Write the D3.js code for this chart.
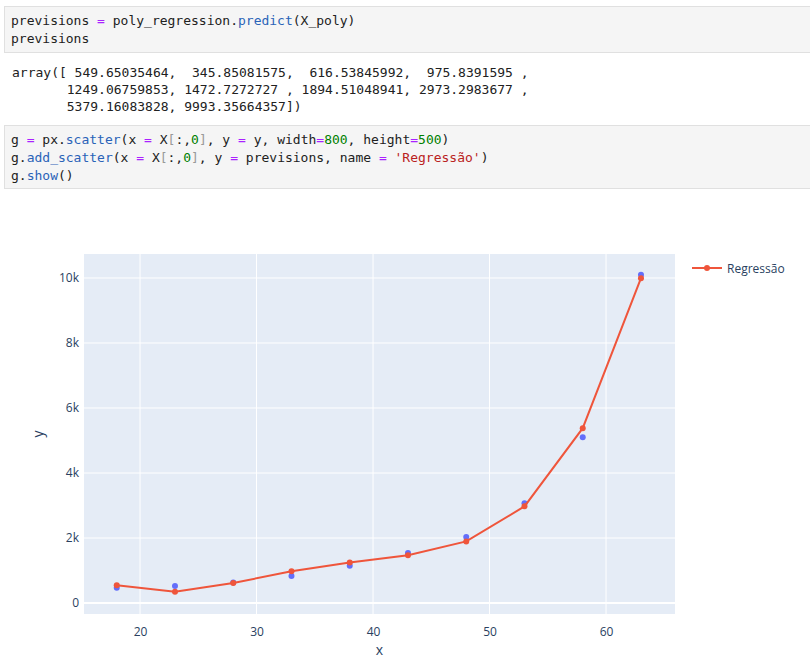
<!DOCTYPE html>
<html><head><meta charset="utf-8">
<script src="https://cdn.jsdelivr.net/npm/d3@7"></script>
<style>body{margin:0;background:#fff}</style>
</head><body><div id="page"></div>
<script>
const xVals = [18, 23, 28, 33, 38, 43, 48, 53, 58, 63];
const yActual = [470, 520, 630, 830, 1150, 1540, 2030, 3070, 5100, 10100];
const previsions = [549.65035464, 345.85081575, 616.53845992, 975.8391595, 1249.06759853,
  1472.7272727, 1894.51048941, 2973.2983677, 5379.16083828, 9993.35664357];
const xTicks = [20, 30, 40, 50, 60];
const yTicks = [0, 2000, 4000, 6000, 8000, 10000];

const svg = d3.select("#page").append("svg").attr("width", 810).attr("height", 659);
const mono = "'DejaVu Sans Mono', monospace";
const C = {kw: "#aa22ff", fn: "#2a63b8", num: "#008000", str: "#ba2121", txt: "#212121", br: "#999"};

// code cells: each line is a list of [text, colour]
function cell(y0, h, lines) {
  svg.append("rect").attr("x", 4.5).attr("y", y0 + 0.5).attr("width", 810).attr("height", h)
    .attr("fill", "#f5f5f5").attr("stroke", "#e0e0e0");
  lines.forEach((ln, i) => {
    const t = svg.append("text").attr("x", 11).attr("y", y0 + 19 + i * 18)
      .attr("font-family", mono).attr("font-size", 13).attr("xml:space", "preserve");
    ln.forEach(([s, c]) => t.append("tspan").attr("fill", c).text(s));
  });
}
cell(6, 46, [
  [["previsions ", C.txt], ["=", C.kw], [" poly_regression.", C.txt], ["predict", C.fn], ["(X_poly)", C.txt]],
  [["previsions", C.txt]]
]);
["array([ 549.65035464,  345.85081575,  616.53845992,  975.8391595 ,",
 "       1249.06759853, 1472.7272727 , 1894.51048941, 2973.2983677 ,",
 "       5379.16083828, 9993.35664357])"].forEach((s, i) =>
  svg.append("text").attr("x", 12).attr("y", 77 + i * 17).attr("font-family", mono)
    .attr("font-size", 13).attr("fill", C.txt).attr("xml:space", "preserve").text(s));
cell(125, 63, [
  [["g ", C.txt], ["=", C.kw], [" px.", C.txt], ["scatter", C.fn], ["(x ", C.txt], ["=", C.kw], [" X", C.txt],
   ["[", C.br], [":,", C.txt], ["0", C.num], ["]", C.br], [", y ", C.txt], ["=", C.kw], [" y, width", C.txt],
   ["=", C.kw], ["800", C.num], [", height", C.txt], ["=", C.kw], ["500", C.num], [")", C.txt]],
  [["g.", C.txt], ["add_scatter", C.fn], ["(x ", C.txt], ["=", C.kw], [" X", C.txt], ["[", C.br], [":,", C.txt],
   ["0", C.num], ["]", C.br], [", y ", C.txt], ["=", C.kw], [" previsions, name ", C.txt], ["=", C.kw],
   [" ", C.txt], ["'Regressão'", C.str], [")", C.txt]],
  [["g.", C.txt], ["show", C.fn], ["()", C.txt]]
]);

// plot
const L = 84, R = 675, T = 254, B = 614;
const x = d3.scaleLinear().domain([15.19, 65.92]).range([L, R]);
const y = d3.scaleLinear().domain([-338, 10738]).range([B, T]);
const font = "'Open Sans', Arial, sans-serif";
svg.append("rect").attr("x", L).attr("y", T).attr("width", R - L).attr("height", B - T).attr("fill", "#e5ecf6");
const g = svg.append("g");
g.selectAll(".gx").data(xTicks).join("line").attr("x1", d => x(d)).attr("x2", d => x(d))
  .attr("y1", T).attr("y2", B).attr("stroke", "#fff").attr("stroke-width", 1);
g.selectAll(".gy").data(yTicks).join("line").attr("y1", d => y(d)).attr("y2", d => y(d))
  .attr("x1", L).attr("x2", R).attr("stroke", "#fff").attr("stroke-width", d => d === 0 ? 2 : 1);

const xAxis = svg.append("g").attr("transform", `translate(0,${B + 9})`)
  .call(d3.axisBottom(x).tickValues(xTicks).tickSize(0).tickPadding(4));
const yAxis = svg.append("g").attr("transform", `translate(${L - 1},0)`)
  .call(d3.axisLeft(y).tickValues(yTicks).tickSize(0).tickPadding(4)
    .tickFormat(d => d === 0 ? "0" : d / 1000 + "k"));
[xAxis, yAxis].forEach(a => {
  a.select(".domain").remove();
  a.selectAll("text").attr("font-family", font).attr("font-size", 12).attr("fill", "#2a3f5f");
});
svg.append("text").attr("x", (L + R) / 2).attr("y", 655).attr("text-anchor", "middle")
  .attr("font-family", font).attr("font-size", 14).attr("fill", "#2a3f5f").text("x");
svg.append("text").attr("transform", `translate(43,${(T + B) / 2}) rotate(-90)`).attr("text-anchor", "middle")
  .attr("font-family", font).attr("font-size", 14).attr("fill", "#2a3f5f").text("y");

// data
const plot = svg.append("g");
plot.selectAll(".act").data(xVals).join("circle").attr("cx", d => x(d)).attr("cy", (d, i) => y(yActual[i]))
  .attr("r", 3).attr("fill", "#636efa");
plot.append("path").datum(xVals)
  .attr("d", d3.line().x(d => x(d)).y((d, i) => y(previsions[i])))
  .attr("fill", "none").attr("stroke", "#ef553b").attr("stroke-width", 2);
plot.selectAll(".pred").data(xVals).join("circle").attr("cx", d => x(d)).attr("cy", (d, i) => y(previsions[i]))
  .attr("r", 3).attr("fill", "#ef553b");

// legend
const lg = svg.append("g").attr("transform", "translate(692,268)");
lg.append("line").attr("x1", 0).attr("x2", 30).attr("stroke", "#ef553b").attr("stroke-width", 2);
lg.append("circle").attr("cx", 15).attr("r", 3).attr("fill", "#ef553b");
lg.append("text").attr("x", 35).attr("y", 5).attr("font-family", font).attr("font-size", 12)
  .attr("fill", "#2a3f5f").text("Regressão");
</script></body></html>
